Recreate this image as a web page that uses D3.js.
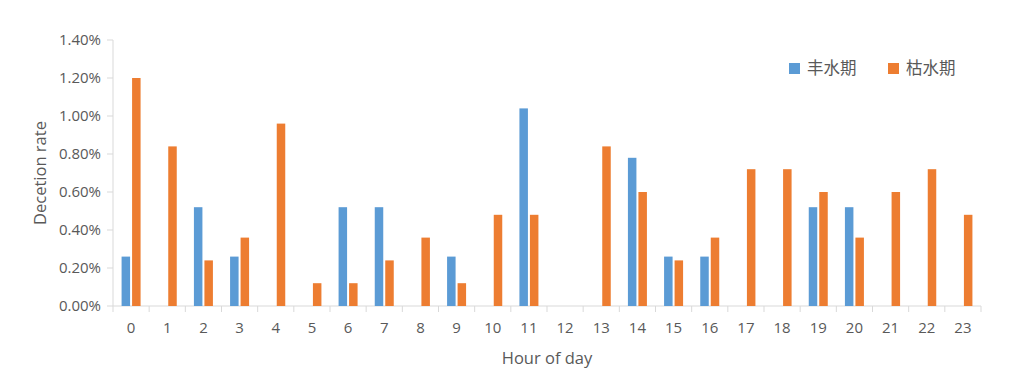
<!DOCTYPE html>
<html>
<head>
<meta charset="utf-8">
<script src="https://cdn.jsdelivr.net/npm/d3@7"></script>
<style>
  body { margin: 0; background: #fff; }
  text { font-family: "Open Sans", "Noto Sans CJK SC", sans-serif; fill: #595959; }
</style>
</head>
<body>
<svg id="chart" width="1024" height="380"></svg>
<script>
// data
const hours = d3.range(0, 24).map(String)
const seriesNames = ['丰水期', '枯水期']
const wetSeason = [0.0026, 0, 0.0052, 0.0026, 0, 0, 0.0052, 0.0052, 0, 0.0026, 0, 0.0104,
                   0, 0, 0.0078, 0.0026, 0.0026, 0, 0, 0.0052, 0.0052, 0, 0, 0]
const drySeason = [0.0120, 0.0084, 0.0024, 0.0036, 0.0096, 0.0012, 0.0012, 0.0024, 0.0036, 0.0012, 0.0048, 0.0048,
                   0, 0.0084, 0.0060, 0.0024, 0.0036, 0.0072, 0.0072, 0.0060, 0.0036, 0.0060, 0.0072, 0.0048]
const yTicks = [0, 0.002, 0.004, 0.006, 0.008, 0.010, 0.012, 0.014]
const colors = ['#5B9BD5', '#ED7D31']

////////////////////////// SETUP //////////////////////////
const svg = d3.select('#chart')
const margin = { left: 113, right: 43, top: 40, bottom: 74 }
const width = 1024 - margin.left - margin.right
const height = 380 - margin.top - margin.bottom

const g = svg.append('g').attr('transform', `translate(${margin.left},${margin.top})`)

const xScale = d3.scaleBand().domain(hours).range([0, width])
const yScale = d3.scaleLinear().domain([0, 0.014]).range([height, 0])

const barW = 8.5
const barGap = 2

////////////////////////// AXES //////////////////////////
// y axis line + ticks
g.append('line')
  .attr('x1', 0).attr('x2', 0).attr('y1', 0).attr('y2', height)
  .attr('stroke', '#D9D9D9')

g.selectAll('.y-tick')
  .data(yTicks)
  .enter()
  .append('line')
  .attr('x1', -6).attr('x2', 0)
  .attr('y1', (d) => yScale(d)).attr('y2', (d) => yScale(d))
  .attr('stroke', '#D9D9D9')

g.selectAll('.y-label')
  .data(yTicks)
  .enter()
  .append('text')
  .attr('x', -12)
  .attr('y', (d) => yScale(d))
  .attr('dy', '0.35em')
  .attr('text-anchor', 'end')
  .style('font-size', '15px')
  .text((d) => (d * 100).toFixed(2) + '%')

// x axis line + ticks between categories
g.append('line')
  .attr('x1', 0).attr('x2', width).attr('y1', height).attr('y2', height)
  .attr('stroke', '#D9D9D9')

g.selectAll('.x-tick')
  .data(hours.concat(['end']))
  .enter()
  .append('line')
  .attr('x1', (d, i) => i * xScale.step())
  .attr('x2', (d, i) => i * xScale.step())
  .attr('y1', height).attr('y2', height + 6)
  .attr('stroke', '#D9D9D9')

g.selectAll('.x-label')
  .data(hours)
  .enter()
  .append('text')
  .attr('x', (d) => xScale(d) + xScale.bandwidth() / 2)
  .attr('y', height + 27)
  .attr('text-anchor', 'middle')
  .style('font-size', '15px')
  .text((d) => d)

// axis titles
svg.append('text')
  .attr('transform', `translate(46,${margin.top + height / 2}) rotate(-90)`)
  .attr('text-anchor', 'middle')
  .style('font-size', '16.5px')
  .text('Decetion rate')

svg.append('text')
  .attr('x', margin.left + width / 2)
  .attr('y', 364)
  .attr('text-anchor', 'middle')
  .style('font-size', '16.5px')
  .text('Hour of day')

////////////////////////// BARS //////////////////////////
const allSeries = [wetSeason, drySeason]

allSeries.forEach((values, s) => {
  g.selectAll('.bar-' + s)
    .data(values)
    .enter()
    .append('rect')
    .attr('x', (d, i) => xScale(hours[i]) + xScale.bandwidth() / 2 + (s === 0 ? -barW - barGap / 2 : barGap / 2))
    .attr('y', (d) => yScale(d))
    .attr('width', barW)
    .attr('height', (d) => height - yScale(d))
    .style('fill', colors[s])
})

////////////////////////// LEGEND //////////////////////////
const legend = svg.append('g').attr('transform', 'translate(789,63)')
seriesNames.forEach((name, i) => {
  const item = legend.append('g').attr('transform', `translate(${i * 99},0)`)
  item.append('rect').attr('width', 11).attr('height', 11).style('fill', colors[i])
  item.append('text')
    .attr('x', 18).attr('y', 5.5).attr('dy', '0.36em')
    .style('font-size', '16.5px')
    .text(name)
})
</script>
</body>
</html>
